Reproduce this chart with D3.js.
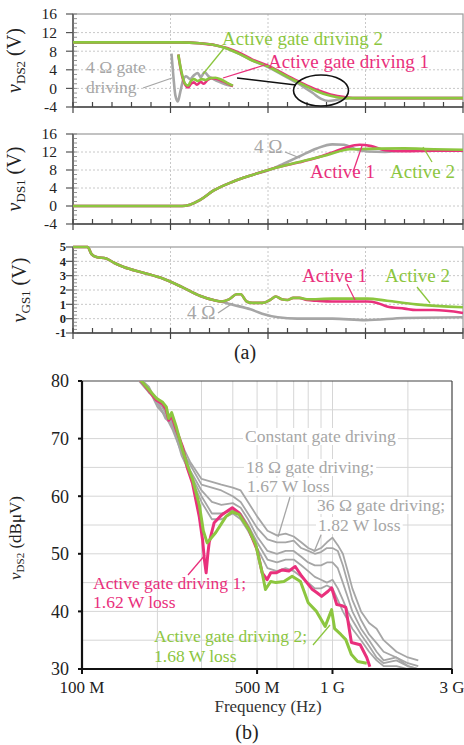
<!DOCTYPE html>
<html><head><meta charset="utf-8">
<script src="https://cdn.jsdelivr.net/npm/d3@7"></script>
<style>body{margin:0;background:#fff}svg{display:block}text{font-family:"Liberation Serif","Times New Roman",serif}</style>
</head><body><svg id="c" width="464" height="745"></svg>
<script>
// ---------- DATA (a) : time in minor divisions, voltage in V ----------
const vds2Gray  = [[0,9.9],[5.5,9.9],[6.5,9.7],[7.3,9.3],[7.9,8.6],[8.6,7.3],[9.2,6.0],[10,4.6],[11,2.3],[11.8,0.4],[12.3,-1.0],[12.7,-2.2],[13.1,-2.7],[13.6,-2.4],[14.2,-2.1],[20,-2.1]];
const vds2Act1  = [[0,9.9],[5.5,9.9],[6.5,9.7],[7.3,9.3],[7.9,8.7],[8.6,7.5],[9.2,6.2],[10,4.9],[11,2.7],[11.8,1.0],[12.5,-0.3],[13.2,-1.3],[14,-1.9],[14.6,-2.1],[20,-2.1]];
const vds2Act2  = [[0,9.9],[5.5,9.9],[6.5,9.7],[7.3,9.3],[7.9,8.6],[8.6,7.3],[9.2,6.0],[10,4.7],[11,2.5],[11.8,0.8],[12.5,-0.6],[13.2,-1.6],[14,-2.1],[20,-2.1]];
const ringGray  = [[5.05,7.5],[5.15,2.5],[5.25,-1.5],[5.38,-2.8],[5.5,-0.8],[5.65,1.8],[5.8,2.6],[6.0,2.0],[6.2,2.8],[6.4,3.3],[6.55,2.4],[6.75,3.5],[6.95,2.6],[7.2,2.0],[7.5,1.4],[7.8,0.9],[8.2,0.5]];
const ringAct1  = [[5.4,7.3],[5.55,3.5],[5.75,0.8],[5.9,0.2],[6.05,1.0],[6.2,1.3],[6.35,0.8],[6.55,1.4],[6.7,1.0],[6.9,1.8],[7.1,2.2],[7.4,2.0],[7.7,1.5],[8.0,0.9],[8.2,0.5]];
const ringAct2  = [[5.4,7.3],[5.55,3.8],[5.75,1.0],[5.9,0.6],[6.05,1.6],[6.2,2.0],[6.4,1.6],[6.6,2.0],[6.8,1.8],[7.0,2.2],[7.3,2.3],[7.6,1.9],[7.9,1.2],[8.2,0.6]];
const vds1Gray  = [[0,0],[5.6,0],[6.0,0.3],[6.5,1.3],[7.2,3.4],[8.2,5.4],[9.2,6.9],[10.3,8.4],[10.8,9.4],[11.6,11.0],[12.5,12.8],[13.3,13.7],[13.9,13.6],[14.5,12.6],[15.1,12.1],[16,12.0],[17,12.3],[20,12.3]];
const vds1Act1  = [[0,0],[5.6,0],[6.0,0.3],[6.5,1.3],[7.2,3.4],[8.2,5.4],[9.2,6.9],[10.3,8.4],[11.6,9.7],[12.4,10.6],[13.3,11.9],[14.0,13.0],[14.7,13.6],[15.3,13.3],[16,12.4],[17,12.2],[18.5,12.3],[20,12.3]];
const vds1Act2  = [[0,0],[5.6,0],[6.0,0.3],[6.5,1.3],[7.2,3.4],[8.2,5.4],[9.2,6.9],[10.3,8.4],[11.6,9.8],[13.0,11.3],[14.2,12.6],[15.1,12.7],[17,12.8],[18.5,12.6],[20,12.5]];
const vgs1Act2  = [[0,5],[0.75,5],[0.95,4.5],[1.2,4.3],[1.7,4.2],[2.1,3.9],[2.6,3.6],[3.6,3.2],[4.6,2.8],[5.6,2.2],[6.5,1.6],[7.2,1.3],[7.6,1.2],[8.0,1.35],[8.4,1.7],[8.6,1.7],[8.9,1.2],[9.2,1.1],[9.7,1.1],[10.1,1.3],[10.4,1.55],[10.7,1.35],[11.0,1.3],[11.3,1.45],[11.6,1.45],[12.0,1.35],[13.3,1.4],[15.1,1.4],[16.1,1.25],[17.6,1.0],[20,0.8]];
const vgs1Act1  = [[0,5],[0.75,5],[0.95,4.5],[1.2,4.3],[1.7,4.2],[2.1,3.9],[2.6,3.6],[3.6,3.2],[4.6,2.8],[5.6,2.2],[6.5,1.6],[7.2,1.3],[7.6,1.2],[8.0,1.35],[8.4,1.7],[8.6,1.7],[8.9,1.2],[9.2,1.1],[9.7,1.1],[10.1,1.3],[10.4,1.55],[10.7,1.35],[11.0,1.3],[11.3,1.45],[11.6,1.45],[12.0,1.3],[12.5,1.25],[13.3,1.2],[15.1,1.2],[15.6,1.1],[16.1,0.85],[17,0.7],[17.6,0.6],[18.5,0.6],[20,0.4]];
const vgs1Gray  = [[0,5],[0.75,5],[0.95,4.5],[1.2,4.3],[1.7,4.2],[2.1,3.9],[2.6,3.6],[3.6,3.2],[4.6,2.8],[5.6,2.2],[6.5,1.6],[7.2,1.3],[7.6,1.2],[8.1,1.0],[9.1,0.65],[9.7,0.35],[10.5,0.1],[11.5,0.0],[13.3,0.0],[15,-0.1],[17,0.05],[20,0.1]];
const ticksVds = [-4,0,4,8,12,16];
const ticksVgs = [-1,0,1,2,3,4,5];

// ---------- DATA (b) : frequency in MHz, level in dBµV ----------
const freqTickLabels = [[100,"100 M"],[500,"500 M"],[1000,"1 G"],[3000,"3 G"]];
const dbTicks = [30,40,50,60,70,80];
const grayFreq = [165,185,200,215,230,250,270,300,330,360,400,430,460,500,550,600,650,700,750,800,850,900,950,1000,1050,1100,1150,1200,1300,1400,1500,1600,1800,2000,2200];
const gray1 = [81,78,77,74.5,73,69,66,63,62.5,62,61.5,61,59,56.5,54,53.2,53.5,53,52,51,50.5,51,52,52.8,51.5,50,47,44,40,38,37,35,33,32,31.5];
const gray2 = [81,78.5,76.5,75,72.5,68,65.5,62,61.5,61,60,59,57,54.5,52.5,52,52,52.3,51,50.5,50,50.3,51,51,50.5,48,45,42,38.5,36,34.5,33,32,31,30.5];
const gray3 = [81,79,76,74,72,68.5,64.5,61,59,58.5,58.8,58,56,53,50.5,50,50.5,50.5,49.5,48.5,48,48,48.5,48.5,47.5,45,42.5,40,37,35,33,31.5,32,30.5,30];
const gray4 = [80.5,78,76.5,73.5,72.5,67,64,60,57,57,57.5,57,55,52,49,48.5,49,49,48,47,46,45.5,45,45.5,44,42,40,38.5,36,34,32,31,31.5,30.5,30];
const gray5 = [80.5,78.5,75.5,74,71.5,67.5,63.5,59,56,56,57,56,54,51,47.5,47,47.5,47,46,45,44,44,44.5,44,42,40,38.5,37,35,33,31.5,30.5,30.5,30,29.5];
const act1 = [[165,81],[198,76.7],[210,76],[217,75],[222,73.2],[228,74],[238,71.5],[252,68.6],[263,65],[276,62.3],[294,56.4],[303,52.4],[308,49],[313,46.7],[318,50],[322,52],[337,55.4],[362,56.8],[398,58],[424,57.1],[464,54.2],[500,50.7],[524,46.7],[548,45.5],[567,46.7],[595,46.7],[630,47.2],[670,47],[710,47.8],[754,46.1],[790,45],[827,43.9],[870,43.2],[905,42.6],[960,43.5],[992,44.1],[1040,41.2],[1090,41],[1130,40.7],[1190,34.6],[1290,34.2],[1370,32],[1410,30.4]];
const act2 = [[165,81],[198,77],[210,76.3],[217,75.5],[222,73.5],[228,74.5],[238,72],[252,68],[263,65.5],[276,63],[294,58.5],[305,54],[316,51.9],[342,53.7],[376,56.5],[398,57.3],[424,56.8],[464,54.2],[494,51.6],[524,46.7],[540,43.8],[567,45.2],[595,45],[640,45.2],[690,46.1],[745,45.2],[800,41.5],[863,40],[935,37.4],[992,40.3],[1020,37],[1080,36],[1130,35.1],[1190,32.5],[1260,31.3],[1370,31]];

// ---------- COLOURS ----------
const GREEN="#8cc63f", PINK="#e9307c", GRAY="#a6a6a6";

const svg=d3.select("#c");

// ===================== (a) =====================
const xT=d3.scaleLinear().domain([0,20]).range([73,463]);
const panels=[
 {top:14,bottom:107,dom:[-4,16],ticks:ticksVds,minor:1,sub:"DS2",labX:21,labRight:57,fs:15.5,
  series:[[vds2Gray,GRAY],[vds2Act1,PINK],[vds2Act2,GREEN],[ringGray,GRAY],[ringAct1,PINK],[ringAct2,GREEN]]},
 {top:134,bottom:224,dom:[-4,16],ticks:ticksVds,minor:1,sub:"DS1",labX:21,labRight:57,fs:15.5,
  series:[[vds1Gray,GRAY],[vds1Act1,PINK],[vds1Act2,GREEN]]},
 {top:247,bottom:333,dom:[-1,5],ticks:ticksVgs,minor:0.25,sub:"GS1",labX:26,labRight:66,fs:12.5,
  series:[[vgs1Gray,GRAY],[vgs1Act1,PINK],[vgs1Act2,GREEN]]}
];
panels.forEach((p,i)=>{
  const y=d3.scaleLinear().domain(p.dom).range([p.bottom,p.top]);
  const g=svg.append("g");
  g.selectAll(".hg").data(p.ticks.filter(t=>t!==p.dom[0]&&t!==p.dom[1])).join("line")
   .attr("x1",73).attr("x2",463).attr("y1",d=>y(d)).attr("y2",d=>y(d))
   .attr("stroke","#c8c8c8").attr("stroke-dasharray","2,2");
  g.selectAll(".vg").data([5,10,15]).join("line")
   .attr("x1",d=>xT(d)).attr("x2",d=>xT(d)).attr("y1",p.top).attr("y2",p.bottom)
   .attr("stroke","#c8c8c8").attr("stroke-dasharray","2,2");
  g.append("rect").attr("x",73).attr("y",p.top).attr("width",390).attr("height",p.bottom-p.top)
   .attr("fill","none").attr("stroke","#9a9a9a").attr("stroke-width",1.2);
  g.append("line").attr("x1",73).attr("x2",73).attr("y1",p.top).attr("y2",p.bottom).attr("stroke","#555").attr("stroke-width",1.5);
  g.append("line").attr("x1",73).attr("x2",463).attr("y1",p.bottom).attr("y2",p.bottom).attr("stroke","#444").attr("stroke-width",1.5);
  g.selectAll(".lt").data(p.ticks).join("line")
   .attr("x1",66).attr("x2",73).attr("y1",d=>y(d)).attr("y2",d=>y(d)).attr("stroke","#555").attr("stroke-width",1.2);
  g.selectAll(".lm").data(d3.range(p.dom[0],p.dom[1]+1e-6,p.minor)).join("line")
   .attr("x1",73).attr("x2",77).attr("y1",d=>y(d)).attr("y2",d=>y(d)).attr("stroke","#777").attr("stroke-width",0.8);
  g.selectAll(".bm").data(d3.range(0,21)).join("line")
   .attr("x1",d=>xT(d)).attr("x2",d=>xT(d)).attr("y1",p.bottom-5).attr("y2",d=>d%5===0?p.bottom+6:p.bottom)
   .attr("stroke","#444").attr("stroke-width",1.2);
  g.selectAll(".tl").data(p.ticks).join("text")
   .attr("x",p.labRight).attr("y",d=>y(d)).attr("dy","0.35em").attr("text-anchor","end")
   .attr("font-size",p.fs).attr("font-weight",i===2?"bold":"normal").attr("fill","#222").text(d=>d);
  const yl=g.append("text").attr("transform",`translate(${p.labX},${(p.top+p.bottom)/2}) rotate(-90)`)
   .attr("text-anchor","middle").attr("font-size",20).attr("fill","#222");
  yl.append("tspan").attr("font-style","italic").text("v");
  yl.append("tspan").attr("font-size",13).attr("dy",4).text(p.sub);
  yl.append("tspan").attr("dy",-4).text(" (V)");
  const line=d3.line().x(d=>xT(d[0])).y(d=>y(d[1])).curve(d3.curveMonotoneX);
  p.series.forEach(([data,col])=>{
    g.append("path").datum(data).attr("d",line).attr("fill","none").attr("stroke",col)
     .attr("stroke-width",2.6).attr("stroke-linejoin","round");
  });
});

function txt(x,y,s,col,fs){return svg.append("text").attr("x",x).attr("y",y).attr("fill",col).attr("font-size",fs).text(s);}
function ln(x1,y1,x2,y2,col,w){return svg.append("line").attr("x1",x1).attr("y1",y1).attr("x2",x2).attr("y2",y2).attr("stroke",col).attr("stroke-width",w||1.3);}

txt(222,45,"Active gate driving 2",GREEN,19); ln(225,47,203,74,GREEN);
txt(268,68,"Active gate driving 1",PINK,19); ln(268,64,223,78,PINK);
txt(86,72.5,"4 Ω gate",GRAY,17.5); txt(86,93,"driving",GRAY,17.5); ln(143,88,172,78,GRAY);
ln(237,78,296,85,"#111",1.4);
svg.append("ellipse").attr("cx",321).attr("cy",90.5).attr("rx",27.5).attr("ry",15.5).attr("fill","none").attr("stroke","#111").attr("stroke-width",1.6);
txt(254,153,"4 Ω",GRAY,19); ln(285,152,300,158,GRAY);
txt(310,178,"Active 1",PINK,19); ln(353,172,362,146,PINK);
txt(390,178,"Active 2",GREEN,19); ln(432,162,423,147,GREEN);
txt(302,282,"Active 1",PINK,19); ln(347,284,355,300,PINK);
txt(385,282,"Active 2",GREEN,19); ln(417,287,430,303,GREEN);
txt(187,319,"4 Ω",GRAY,19); ln(218,313,233,303,GRAY);
svg.append("text").attr("x",245).attr("y",359).attr("text-anchor","middle").attr("font-size",20).attr("fill","#222").text("(a)");

// ===================== (b) =====================
const L=82,R=452,T=381,B=669;
const xF=d3.scaleLog().domain([100,3000]).range([L,R]);
const yD=d3.scaleLinear().domain([30,80]).range([B,T]);
const gb=svg.append("g");
const logGrid=[200,300,400,500,600,700,800,900,1000,2000];
gb.selectAll(".vg").data(logGrid).join("line").attr("x1",d=>xF(d)).attr("x2",d=>xF(d)).attr("y1",T).attr("y2",B).attr("stroke","#d6d6d6");
gb.selectAll(".hg").data(d3.range(35,80,5)).join("line").attr("x1",L).attr("x2",R).attr("y1",d=>yD(d)).attr("y2",d=>yD(d)).attr("stroke","#d6d6d6");
svg.append("defs").append("clipPath").attr("id","cb").append("rect").attr("x",L).attr("y",T).attr("width",R-L).attr("height",B-T);
const pl=svg.append("g").attr("clip-path","url(#cb)");
const lineB=d3.line().x(d=>xF(d[0])).y(d=>yD(d[1]));
[gray1,gray2,gray3,gray4,gray5].forEach(arr=>{
  pl.append("path").datum(grayFreq.map((f,i)=>[f,arr[i]])).attr("d",lineB).attr("fill","none")
   .attr("stroke",GRAY).attr("stroke-width",1.8).attr("stroke-linejoin","round");
});
pl.append("path").datum(act1).attr("d",lineB).attr("fill","none").attr("stroke",PINK).attr("stroke-width",3).attr("stroke-linejoin","round");
pl.append("path").datum(act2).attr("d",lineB).attr("fill","none").attr("stroke",GREEN).attr("stroke-width",3).attr("stroke-linejoin","round");
gb.append("line").attr("x1",L).attr("x2",R).attr("y1",T).attr("y2",T).attr("stroke","#444").attr("stroke-width",1.2);
gb.append("line").attr("x1",R).attr("x2",R).attr("y1",T).attr("y2",B).attr("stroke","#444").attr("stroke-width",1.2);
svg.append("line").attr("x1",L).attr("x2",L).attr("y1",T).attr("y2",B+1).attr("stroke","#111").attr("stroke-width",2.2);
svg.append("line").attr("x1",L-1).attr("x2",R).attr("y1",B).attr("y2",B).attr("stroke","#111").attr("stroke-width",2.2);
svg.selectAll(".yt").data(dbTicks).join("line").attr("x1",L-4).attr("x2",L).attr("y1",d=>yD(d)).attr("y2",d=>yD(d)).attr("stroke","#111").attr("stroke-width",2);
svg.selectAll(".ytl").data(dbTicks).join("text").attr("x",69).attr("y",d=>yD(d)).attr("dy","0.35em").attr("text-anchor","end").attr("font-size",18).attr("fill","#222").text(d=>d);
svg.selectAll(".xt").data(freqTickLabels).join("line").attr("x1",d=>xF(d[0])).attr("x2",d=>xF(d[0])).attr("y1",B).attr("y2",B+5).attr("stroke","#111").attr("stroke-width",2);
svg.selectAll(".xtl").data(freqTickLabels).join("text").attr("x",d=>xF(d[0])).attr("y",693).attr("text-anchor","middle").attr("font-size",17).attr("fill","#222").text(d=>d[1]);
svg.append("text").attr("x",268).attr("y",712).attr("text-anchor","middle").attr("font-size",17).attr("fill","#333").text("Frequency (Hz)");
svg.append("text").attr("x",247).attr("y",739).attr("text-anchor","middle").attr("font-size",20).attr("fill","#222").text("(b)");
const ylb=svg.append("text").attr("transform","translate(21,538) rotate(-90)").attr("text-anchor","middle").attr("font-size",17).attr("fill","#222");
ylb.append("tspan").attr("font-style","italic").text("v");
ylb.append("tspan").attr("font-size",11).attr("dy",3).text("DS2");
ylb.append("tspan").attr("dy",-3).text(" (dBμV)");

function bgText(x,y,s,col,fs){
  const t=txt(x,y,s,col,fs); const bb=t.node().getBBox();
  svg.insert("rect",()=>t.node()).attr("x",bb.x-2).attr("y",bb.y+2).attr("width",bb.width+4).attr("height",bb.height-3).attr("fill","#fff");
  return t;
}
bgText(245,442,"Constant gate driving",GRAY,17.5);
bgText(246,473,"18 Ω gate driving;",GRAY,17.5);
bgText(247,492,"1.67 W loss",GRAY,17.5);
bgText(317,511,"36 Ω gate driving;",GRAY,17.5);
bgText(318,531,"1.82 W loss",GRAY,17.5);
ln(290,497,278,537,GRAY); ln(321,535,314,552,GRAY);
txt(93,589,"Active gate driving 1;",PINK,17.5); txt(93,608,"1.62 W loss",PINK,17.5); ln(188,575,205,555,PINK);
txt(154,642,"Active gate driving 2;",GREEN,17.5); txt(154,662,"1.68 W loss",GREEN,17.5); ln(313,645,330,625,GREEN);
</script></body></html>
